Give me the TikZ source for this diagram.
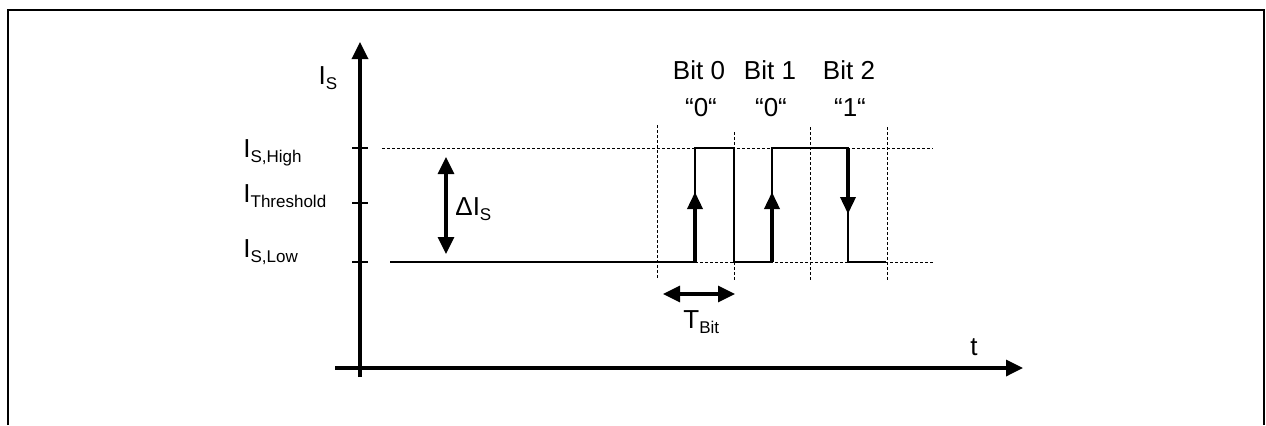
\documentclass[tikz,border=0pt]{standalone}
\usepackage{fontspec}
\setmainfont{Liberation Sans}
\usetikzlibrary{arrows.meta}
\newcommand{\lowsub}[1]{\raisebox{-2.5pt}{\fontsize{8.5}{10}\selectfont #1}}

\begin{document}
\begin{tikzpicture}[
      x = 0.5pt, y = -0.5pt,
every node/.style = {inner sep=0pt, font=\fontsize{13}{15}\selectfont},
       axis/.style = {line width=1.7pt, -{Triangle[length=8.5pt,width=8pt]}},
       grid/.style = {line width=0.5pt, dash pattern=on 1.5pt off 1pt},
       wave/.style = {line width=1.2pt},
      rising/.style = {line width=1.8pt, -{Triangle[length=8.5pt,width=7.5pt]}},
       span/.style = {line width=1.6pt, {Triangle[length=8.5pt,width=8pt]}-{Triangle[length=8.5pt,width=8pt]}}
                        ]
\useasboundingbox (0,0) rectangle (1266,425);
% frame
\draw[line width=1pt] (8,425) -- (8,10) -- (1264,10) -- (1264,425);
% axes
\coordinate (ybot) at (360,377);
\coordinate (ytop) at (360,42);
\coordinate (xbeg) at (335,368);
\coordinate (xend) at (1023,368);
\draw[axis] (ybot) -- (ytop);
\draw[axis] (xbeg) -- (xend);
\foreach \y in {148,203,262}
  \draw[line width=1pt] (352,\y) -- (368,\y);
% axis labels
\node (is)   [anchor=base] at (328,84) {I\lowsub{S}};
\node (ihi)  [anchor=base west] at (243,157) {I\lowsub{S,High}};
\node (ith)  [anchor=base west] at (243,202) {I\lowsub{Threshold}};
\node (ilo)  [anchor=base west] at (243,257) {I\lowsub{S,Low}};
\node (t)    [anchor=base] at (974,355) {t};
% levels
\coordinate (hi0) at (382,148);
\coordinate (hi1) at (933,148);
\coordinate (lo0) at (695,262);
\coordinate (lo1) at (933,262);
\draw[grid] (hi0) -- (hi1);
\draw[grid] (lo0) -- (lo1);
% bit borders
\foreach \x/\t in {657/125, 734/132, 810/127, 887/127}
  \draw[grid] (\x,\t) -- (\x,280);
% signal
\draw[wave] (390,262) -- (695,262) -- (695,148) -- (734,148) -- (734,262)
  -- (772,262) -- (772,148) -- (848,148) -- (848,262) -- (886,262);
\draw[rising] (695,262) -- (695,192);
\draw[rising] (772,262) -- (772,192);
\draw[rising] (848,148) -- (848,214);
% bits
\node (bit0) [anchor=base] at (699,79) {Bit 0};
\node (bit1) [anchor=base] at (770,79) {Bit 1};
\node (bit2) [anchor=base] at (849,79) {Bit 2};
\node (val0) [anchor=base] at (701,116) {“0“};
\node (val1) [anchor=base] at (771,116) {“0“};
\node (val2) [anchor=base] at (850,116) {“1“};
% delta and bit time
\coordinate (dtop) at (446,157);
\coordinate (dbot) at (446,254);
\draw[span] (dtop) -- (dbot);
\node (dis)  [anchor=base west] at (455,215) {ΔI\lowsub{S}};
\coordinate (tl) at (663,294);
\coordinate (tr) at (735,294);
\draw[span] (tl) -- (tr);
\node (tbit) [anchor=base west] at (683,328) {T\lowsub{Bit}};
\end{tikzpicture}
\end{document}
